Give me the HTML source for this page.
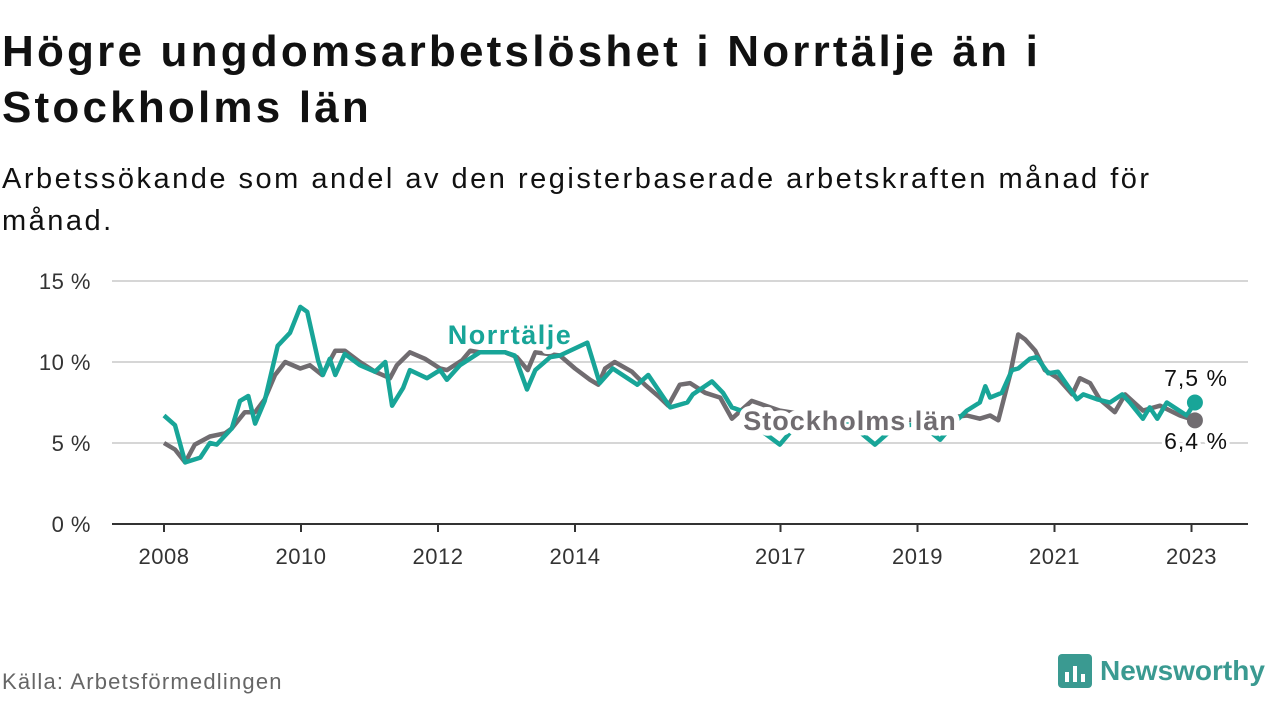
<!DOCTYPE html>
<html><head><meta charset="utf-8">
<style>
body{margin:0;width:1280px;height:720px;background:#fff;overflow:hidden;font-family:"Liberation Sans",sans-serif;}
h1{position:absolute;left:2px;top:24px;margin:0;font-size:44px;line-height:56px;font-weight:bold;color:#111;letter-spacing:3.2px}
.sub{position:absolute;left:2px;top:158px;font-size:29px;line-height:42px;color:#111;letter-spacing:2.5px}
.src{position:absolute;left:2px;top:669px;font-size:22px;color:#666;letter-spacing:1.2px}
.logo{position:absolute;left:1058px;top:654px;display:flex;align-items:center;gap:8px;color:#3a9a91;font-size:28px;font-weight:bold}
svg{position:absolute;left:0;top:0}
</style></head><body>
<h1>Högre ungdomsarbetslöshet i Norrtälje än i<br>Stockholms län</h1>
<div class="sub">Arbetssökande som andel av den registerbaserade arbetskraften månad för<br>månad.</div>
<svg id="chart" width="1280" height="720"></svg>
<div class="src">Källa: Arbetsförmedlingen</div>
<div class="logo"><svg style="position:static" width="34" height="34" viewBox="0 0 34 34"><rect x="0" y="0" width="34" height="34" rx="4" fill="#3a9a91"/><rect x="7" y="18" width="4" height="10" fill="#fff"/><rect x="15" y="12" width="4" height="16" fill="#fff"/><rect x="23" y="20" width="4" height="8" fill="#fff"/></svg><span>Newsworthy</span></div>
<script>
const yTicks=[0,5,10,15];
const yTickLabels=["0 %","5 %","10 %","15 %"];
const xTicks=[2008,2010,2012,2014,2017,2019,2021,2023];
const norrDates=[2008.0,2008.16,2008.31,2008.53,2008.67,2008.77,2008.99,2009.11,2009.23,2009.33,2009.47,2009.66,2009.84,2009.99,2010.09,2010.25,2010.32,2010.42,2010.5,2010.64,2010.86,2011.08,2011.23,2011.33,2011.49,2011.59,2011.84,2012.03,2012.13,2012.32,2012.61,2012.98,2013.12,2013.3,2013.42,2013.64,2013.78,2014.18,2014.36,2014.55,2014.91,2015.07,2015.39,2015.64,2015.72,2016.0,2016.16,2016.29,2016.55,2016.77,2016.99,2017.21,2017.58,2018.01,2018.38,2018.67,2019.04,2019.33,2019.55,2019.72,2019.91,2019.99,2020.06,2020.23,2020.38,2020.47,2020.64,2020.74,2020.91,2021.05,2021.33,2021.42,2021.62,2021.81,2021.99,2022.1,2022.29,2022.39,2022.5,2022.64,2022.93,2023.05];
const norrValues=[6.7,6.1,3.8,4.1,5.0,4.9,5.9,7.6,7.9,6.2,7.6,11.0,11.8,13.4,13.1,10.1,9.2,10.2,9.2,10.5,9.8,9.4,10.0,7.3,8.4,9.5,9.0,9.5,8.9,9.8,10.6,10.6,10.4,8.3,9.5,10.3,10.4,11.2,8.7,9.6,8.6,9.2,7.2,7.5,8.0,8.8,8.1,7.2,6.8,5.6,4.9,6.0,6.3,6.2,4.9,6.0,6.2,5.2,6.3,7.0,7.5,8.5,7.8,8.1,9.5,9.6,10.2,10.3,9.3,9.4,7.7,8.0,7.7,7.5,8.0,7.5,6.5,7.2,6.5,7.5,6.7,7.5];
const sthlmDates=[2008.0,2008.16,2008.31,2008.45,2008.67,2008.89,2008.99,2009.18,2009.33,2009.47,2009.62,2009.77,2009.99,2010.13,2010.31,2010.5,2010.64,2010.86,2011.08,2011.3,2011.4,2011.59,2011.81,2012.03,2012.13,2012.35,2012.47,2012.61,2012.98,2013.15,2013.31,2013.42,2013.78,2014.0,2014.22,2014.34,2014.44,2014.58,2014.83,2015.02,2015.24,2015.36,2015.53,2015.68,2015.9,2016.12,2016.29,2016.58,2016.99,2017.58,2018.16,2018.74,2019.33,2019.72,2019.91,2020.06,2020.18,2020.35,2020.47,2020.57,2020.72,2020.86,2021.05,2021.26,2021.37,2021.52,2021.66,2021.88,2022.03,2022.29,2022.54,2022.83,2023.05];
const sthlmValues=[5.0,4.6,3.8,4.9,5.4,5.6,5.9,6.9,6.9,7.7,9.2,10.0,9.6,9.8,9.2,10.7,10.7,10.0,9.4,9.0,9.8,10.6,10.2,9.6,9.5,10.1,10.7,10.6,10.6,10.3,9.5,10.6,10.4,9.6,8.9,8.6,9.6,10.0,9.4,8.6,7.8,7.3,8.6,8.7,8.1,7.8,6.5,7.6,7.0,6.6,6.3,6.4,6.5,6.7,6.5,6.7,6.4,9.2,11.7,11.4,10.7,9.5,9.0,8.0,9.0,8.7,7.7,6.9,8.0,7.0,7.3,6.7,6.4];
const lastNorr="7,5 %", lastSthlm="6,4 %";

const svg=document.getElementById('chart');
const NS='http://www.w3.org/2000/svg';
const X=y=>164+(y-2008)*68.5;
const Y=v=>524-v*16.2;
function mk(tag,attrs,parent){const e=document.createElementNS(NS,tag);for(const k in attrs)e.setAttribute(k,attrs[k]);(parent||svg).appendChild(e);return e;}
yTicks.forEach((t,i)=>{
  if(t>0){const g=mk('line',{x1:112,x2:1248,y1:Y(t),y2:Y(t),stroke:'#d6d6d6','stroke-width':2});
  
  }
  const l=mk('text',{x:91,y:Y(t)+8,'text-anchor':'end','font-size':22,fill:'#333','letter-spacing':0.5});l.textContent=yTickLabels[i];
  
  
});
xTicks.forEach(t=>{
  const tk=mk('line',{x1:X(t),x2:X(t),y1:524,y2:532,stroke:'#333','stroke-width':2});
  
  
  const l=mk('text',{x:X(t),y:564,'text-anchor':'middle','font-size':22,fill:'#333','letter-spacing':0.5});l.textContent=t;
  
  
});
const ax=mk('line',{x1:112,x2:1248,y1:524,y2:524,stroke:'#333','stroke-width':2});


function line(d,v,c,name){
  const p=mk('path',{d:d.map((t,i)=>(i?'L':'M')+X(t).toFixed(1)+','+Y(v[i]).toFixed(1)).join(''),fill:'none',stroke:c,'stroke-width':4.5,'stroke-linejoin':'round'});
  
  
}
line(sthlmDates,sthlmValues,'#706c70','stockholm-line');
line(norrDates,norrValues,'#18a598','norrtalje-line');
const d1=mk('circle',{cx:X(sthlmDates[sthlmDates.length-1]),cy:Y(sthlmValues[sthlmValues.length-1]),r:8,fill:'#706c70'});


const d2=mk('circle',{cx:X(norrDates[norrDates.length-1]),cy:Y(norrValues[norrValues.length-1]),r:8,fill:'#18a598'});


function lab(txt,x,y,fs,c,bold,anchor,ls,sw,name){
  const t=mk('text',{x:x,y:y,'font-size':fs,fill:c,'font-weight':bold?'bold':'normal','text-anchor':anchor,'letter-spacing':ls,stroke:'#fff','stroke-width':sw,'paint-order':'stroke','stroke-linejoin':'round'});
  t.textContent=txt;
  
  
}
lab('Norrtälje',510,344,27,'#18a598',true,'middle',1.5,9,'norrtalje-series-label');
lab('Stockholms län',850,430,27,'#706c70',true,'middle',1,11,'stockholm-series-label');
lab(lastNorr,1196,386,23,'#111',false,'middle',1,7,'norrtalje-last-value');
lab(lastSthlm,1196,449,23,'#111',false,'middle',1,7,'stockholm-last-value');
</script>
</body></html>
